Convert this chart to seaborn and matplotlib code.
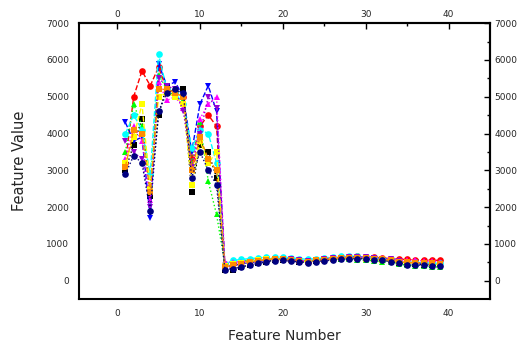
import numpy as np
import pandas as pd
import matplotlib
matplotlib.use("Agg")
import matplotlib.pyplot as plt
import seaborn as sns
from matplotlib.ticker import FixedLocator

sns.set_style("white")
plt.rcParams['font.family'] = ['DejaVu Sans']

features = list(range(1, 40))
x_major = [0, 10, 20, 30, 40]
x_minor = [-5, 5, 15, 25, 35, 45]
y_major = [0, 1000, 2000, 3000, 4000, 5000, 6000, 7000]
y_minor = [-500, 500, 1500, 2500, 3500, 4500, 5500, 6500]

# one list per sample
s_red = [3200, 5000, 5700, 5300, 5800, 5200, 5100, 5000, 3300, 4200, 4500, 4200, 450, 480, 500, 540, 560, 580, 600, 590, 560, 540, 520, 560, 600, 620, 640, 650, 660, 650, 640, 620, 600, 580, 580, 560, 570, 560, 550]
s_black = [3000, 3700, 4400, 2300, 4500, 5300, 5100, 5200, 2400, 3700, 3500, 2800, 300, 300, 380, 420, 480, 520, 560, 570, 550, 520, 500, 540, 560, 580, 600, 610, 620, 600, 580, 560, 530, 480, 460, 450, 440, 430, 420]
s_blue = [4300, 3800, 3900, 1700, 5900, 5300, 5400, 5000, 3500, 4800, 5300, 4600, 400, 420, 460, 500, 520, 560, 580, 600, 570, 540, 520, 560, 580, 600, 610, 620, 630, 620, 610, 590, 560, 520, 480, 470, 460, 450, 440]
s_green = [3500, 4800, 4200, 2600, 5600, 5200, 5000, 4900, 3200, 4300, 2700, 1800, 450, 500, 540, 560, 580, 600, 610, 600, 580, 560, 540, 560, 580, 600, 590, 580, 570, 560, 540, 520, 500, 450, 420, 400, 400, 380, 370]
s_cyan = [4000, 4500, 4100, 2900, 6150, 5200, 5100, 4800, 3600, 4100, 4000, 3200, 450, 550, 580, 600, 620, 640, 650, 640, 620, 600, 580, 600, 620, 640, 660, 670, 660, 640, 620, 600, 580, 540, 520, 500, 490, 480, 470]
s_magenta = [3300, 4200, 3800, 2200, 5400, 4900, 5000, 4700, 3000, 4400, 4800, 5000, 500, 500, 520, 540, 560, 580, 600, 590, 570, 550, 540, 560, 590, 610, 630, 640, 650, 640, 630, 610, 590, 560, 560, 550, 540, 530, 520]
s_yellow = [3200, 3900, 4800, 2500, 5000, 5100, 5000, 4800, 2600, 3800, 3200, 3500, 400, 450, 480, 520, 560, 580, 590, 580, 560, 540, 520, 550, 580, 600, 620, 630, 620, 600, 580, 560, 540, 500, 480, 470, 460, 450, 440]
s_purple = [3800, 3500, 3300, 2000, 5500, 5300, 5200, 4600, 3100, 4000, 5000, 4700, 350, 400, 450, 500, 540, 570, 590, 600, 580, 550, 530, 560, 590, 610, 630, 640, 650, 640, 620, 600, 580, 540, 500, 490, 480, 470, 460]
s_orange = [3100, 4100, 4000, 2400, 5200, 5200, 5100, 5000, 3000, 3900, 3300, 3000, 380, 420, 460, 500, 540, 570, 590, 580, 560, 540, 520, 550, 570, 590, 610, 620, 620, 610, 600, 580, 560, 520, 500, 490, 480, 470, 460]
s_navy = [2900, 3400, 3200, 1900, 4600, 5100, 5200, 5100, 2800, 3500, 3000, 2600, 300, 330, 380, 430, 470, 510, 540, 550, 530, 510, 490, 520, 540, 560, 580, 590, 600, 590, 570, 550, 520, 470, 440, 430, 420, 410, 400]

series = [
    (s_red, "red", "o", "--"),
    (s_black, "black", "s", ":"),
    (s_blue, "blue", "v", "--"),
    (s_green, "lime", "^", ":"),
    (s_cyan, "cyan", "o", "--"),
    (s_magenta, "magenta", "^", ":"),
    (s_yellow, "yellow", "s", "--"),
    (s_purple, "darkviolet", "v", ":"),
    (s_orange, "darkorange", "s", "--"),
    (s_navy, "navy", "o", ":"),
]

fig = plt.figure(figsize=(5.23, 3.45), dpi=100)
ax = fig.add_axes([0.151, 0.133, 0.786, 0.80])

for vals, col, mk, ls in series:
    sns.lineplot(x=features, y=vals, ax=ax, color=col, marker=mk, linestyle=ls,
                 linewidth=1.0, markersize=4.8, markeredgewidth=0, legend=False)

ax.set_xlim(-4.6, 45)
ax.set_ylim(-500, 7000)

# left / bottom: ticks out; top / right copies: ticks in
top = ax.secondary_xaxis('top')
right = ax.secondary_yaxis('right')
for a in (ax, top):
    a.xaxis.set_major_locator(FixedLocator(x_major))
    a.xaxis.set_minor_locator(FixedLocator([v for v in x_minor if -4.6 < v < 45]))
for a in (ax, right):
    a.yaxis.set_major_locator(FixedLocator(y_major))
    a.yaxis.set_minor_locator(FixedLocator([v for v in y_minor if v > -500]))

ax.tick_params(which='both', direction='out', labelsize=6.5, width=1, color='black', pad=3)
ax.tick_params(which='major', length=4)
ax.tick_params(which='minor', length=2)
for a in (top, right):
    a.tick_params(which='both', direction='in', labelsize=6.5, width=1, color='black', pad=3)
    a.tick_params(which='major', length=4)
    a.tick_params(which='minor', length=2)
    for sp in a.spines.values():
        sp.set_linewidth(1.5)

for sp in ax.spines.values():
    sp.set_color('black')
    sp.set_linewidth(1.5)

ax.set_xlabel("Feature Number", fontsize=10, labelpad=8)
ax.set_ylabel("Feature Value", fontsize=10.5, labelpad=14)

plt.savefig("out.png", dpi=100)
